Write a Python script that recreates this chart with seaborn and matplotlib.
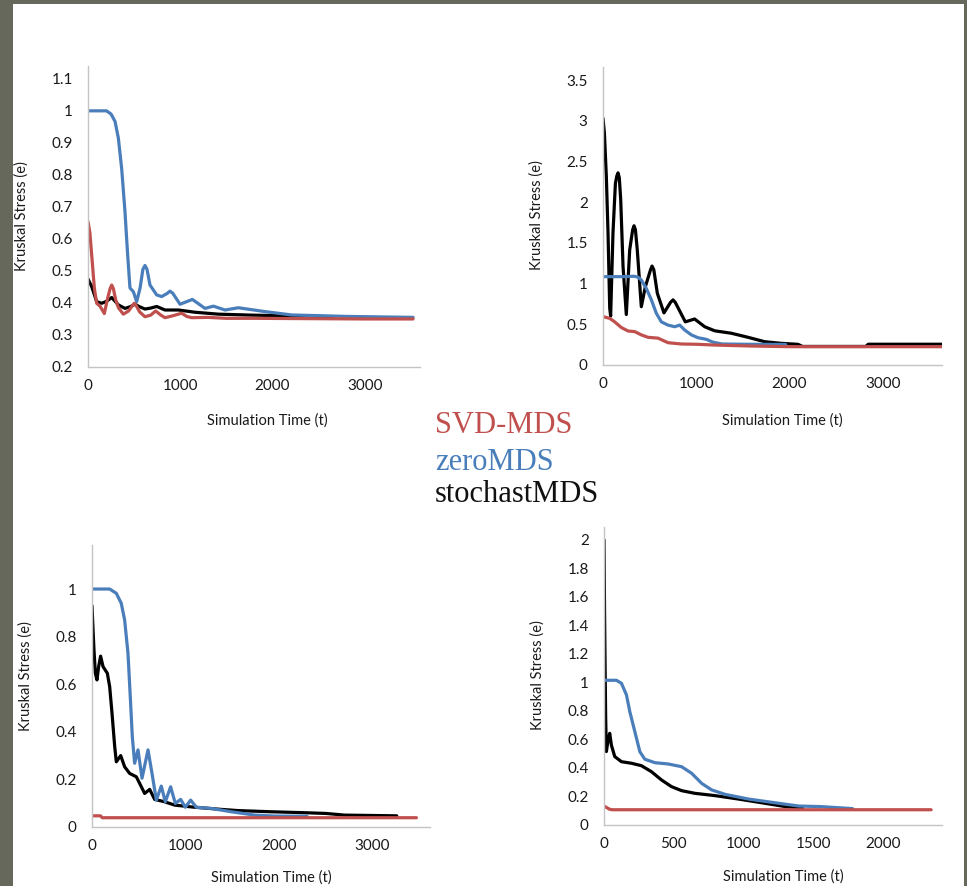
import numpy as np
import pandas as pd
import matplotlib
matplotlib.use("Agg")
import matplotlib.pyplot as plt
import seaborn as sns
from matplotlib.ticker import MultipleLocator, FuncFormatter
from matplotlib.patches import Rectangle

# ---- panel 1 (top left) ----
p1_svd_t = [0, 20, 40, 69, 94, 130, 177, 213, 240, 257, 275, 300, 330, 383, 440, 485, 502, 520, 560,
            618, 680, 734, 790, 835, 920, 1016, 1070, 1124, 1300, 1500, 1800, 2400, 3000, 3525]
p1_svd = [0.654, 0.62, 0.55, 0.446, 0.399, 0.39, 0.367, 0.415, 0.445, 0.456, 0.445, 0.41, 0.385,
          0.365, 0.375, 0.393, 0.399, 0.393, 0.372, 0.357, 0.362, 0.375, 0.362, 0.354, 0.36, 0.368,
          0.358, 0.354, 0.355, 0.352, 0.352, 0.351, 0.35, 0.35]
p1_zero_t = [0, 200, 250, 293, 329, 365, 401, 430, 455, 492, 528, 565, 595, 618, 640, 672, 745, 799,
             860, 889, 920, 998, 1132, 1269, 1360, 1486, 1630, 1920, 2209, 2800, 3525]
p1_zero = [1.0, 1.0, 0.99, 0.967, 0.915, 0.82, 0.685, 0.55, 0.447, 0.435, 0.404, 0.447, 0.505, 0.517,
           0.505, 0.456, 0.425, 0.42, 0.43, 0.437, 0.43, 0.396, 0.411, 0.383, 0.39, 0.378, 0.385,
           0.373, 0.3625, 0.358, 0.355]
p1_stoch_t = [0, 40, 94, 148, 200, 257, 329, 401, 455, 510, 560, 618, 680, 745, 835, 980, 1160, 1414,
              1775, 2137, 2660]
p1_stoch = [0.475, 0.451, 0.404, 0.399, 0.405, 0.417, 0.394, 0.383, 0.388, 0.396, 0.388, 0.381, 0.384,
            0.389, 0.378, 0.378, 0.371, 0.365, 0.362, 0.36, 0.357]

# ---- panel 2 (top right) ----
p2_svd_t = [0, 72, 125, 197, 268, 340, 411, 483, 590, 697, 840, 1019, 1198, 1592, 2000, 3634]
p2_svd = [0.594, 0.573, 0.53, 0.46, 0.418, 0.41, 0.37, 0.34, 0.33, 0.274, 0.258, 0.254, 0.245, 0.233,
          0.225, 0.225]
p2_zero_t = [0, 200, 330, 375, 411, 465, 519, 572, 626, 697, 769, 823, 876, 948, 1019, 1109, 1180,
             1277, 1500, 1960]
p2_zero = [1.085, 1.085, 1.09, 1.08, 1.044, 0.94, 0.8, 0.635, 0.53, 0.49, 0.47, 0.49, 0.43, 0.37,
           0.335, 0.315, 0.28, 0.258, 0.255, 0.252]
p2_stoch_t = [0, 15, 36, 54, 72, 82, 107, 133, 148, 161, 175, 190, 215, 250, 286, 318, 333, 348, 368,
              411, 454, 510, 526, 545, 583, 654, 725, 751, 775, 883, 983, 1091, 1198, 1377, 1556, 1735,
              1913, 2092, 2140, 2820, 2845, 3634]
p2_stoch = [3.03, 2.85, 2.31, 1.62, 0.7, 0.6, 1.62, 2.23, 2.32, 2.36, 2.3, 2.03, 1.21, 0.62, 1.41,
            1.66, 1.71, 1.66, 1.41, 0.716, 0.96, 1.17, 1.215, 1.17, 0.88, 0.64, 0.77, 0.8, 0.77, 0.53,
            0.565, 0.47, 0.42, 0.39, 0.34, 0.286, 0.266, 0.254, 0.228, 0.228, 0.255, 0.255]

# ---- panel 3 (bottom left) ----
p3_svd_t = [0, 90, 110, 3470]
p3_svd = [0.047, 0.047, 0.039, 0.039]
p3_zero_t = [0, 189, 260, 313, 349, 385, 413, 431, 456, 492, 535, 599, 642, 688, 741, 784, 841, 891,
             948, 998, 1055, 1116, 1276, 1490, 1740, 1954, 2300]
p3_zero = [1.0, 1.0, 0.982, 0.94, 0.87, 0.73, 0.52, 0.38, 0.268, 0.324, 0.205, 0.324, 0.225, 0.113,
           0.172, 0.106, 0.169, 0.099, 0.116, 0.083, 0.113, 0.083, 0.078, 0.064, 0.05, 0.046, 0.045]
p3_stoch_t = [0, 10, 21, 36, 53, 71, 92, 118, 164, 189, 214, 243, 260, 307, 349, 403, 474, 510, 563,
              617, 670, 777, 884, 1098, 1383, 1561, 1918, 2275, 2500, 2700, 3259]
p3_stoch = [0.93, 0.84, 0.745, 0.646, 0.618, 0.674, 0.718, 0.674, 0.646, 0.59, 0.478, 0.337, 0.274,
            0.30, 0.253, 0.225, 0.211, 0.183, 0.141, 0.158, 0.116, 0.106, 0.092, 0.083, 0.074, 0.069,
            0.064, 0.06, 0.057, 0.05, 0.047]

# ---- panel 4 (bottom right) ----
p4_svd_t = [0, 41, 60, 2345]
p4_svd = [0.133, 0.11, 0.107, 0.107]
p4_zero_t = [0, 89, 125, 161, 185, 221, 257, 293, 365, 460, 556, 628, 700, 772, 868, 1036, 1204,
             1396, 1554, 1782]
p4_zero = [1.015, 1.015, 0.994, 0.912, 0.795, 0.655, 0.514, 0.461, 0.437, 0.428, 0.409, 0.363, 0.292,
           0.246, 0.215, 0.182, 0.159, 0.133, 0.129, 0.115]
p4_stoch_t = [0, 4, 8, 12, 17, 30, 41, 53, 77, 125, 197, 268, 340, 412, 484, 556, 652, 796, 964,
              1156, 1300, 1422]
p4_stoch = [2.0, 1.5, 1.1, 0.75, 0.515, 0.6, 0.643, 0.56, 0.48, 0.444, 0.433, 0.416, 0.374, 0.316,
            0.269, 0.241, 0.222, 0.206, 0.182, 0.152, 0.129, 0.12]

methods = ["stochastMDS", "zeroMDS", "SVD-MDS"]   # draw order (red on top)
colors = {"SVD-MDS": "#C0504D", "zeroMDS": "#4A7EBB", "stochastMDS": "#000000"}


def long_df(svd_t, svd, zero_t, zero, st_t, st):
    parts = [pd.DataFrame({"t": st_t, "e": st, "method": "stochastMDS"}),
             pd.DataFrame({"t": zero_t, "e": zero, "method": "zeroMDS"}),
             pd.DataFrame({"t": svd_t, "e": svd, "method": "SVD-MDS"})]
    return pd.concat(parts, ignore_index=True)


sns.set_theme(style="white")
plt.rcParams["font.family"] = ["Lato", "DejaVu Sans"]

fig = plt.figure(figsize=(9.67, 8.86), dpi=100, facecolor="white")
# grey slide border (left, top, right)
border = "#66685b"
for x0, y0, w, h in [(0, 0, 13 / 967, 1), (0, 1 - 4 / 886, 1, 4 / 886), (964 / 967, 0, 3 / 967, 1)]:
    fig.patches.append(Rectangle((x0, y0), w, h, transform=fig.transFigure,
                                 facecolor=border, edgecolor="none", zorder=5))

panels = [
    ([88 / 967, 1 - 367 / 886, 332 / 967, 301 / 886],
     long_df(p1_svd_t, p1_svd, p1_zero_t, p1_zero, p1_stoch_t, p1_stoch),
     (0, 3600), (0.2, 1.14), 0.1, 1000, 500, (0.539, -0.153), (-0.178, 0.502)),
    ([603 / 967, 1 - 365 / 886, 339 / 967, 298 / 886],
     long_df(p2_svd_t, p2_svd, p2_zero_t, p2_zero, p2_stoch_t, p2_stoch),
     (0, 3637), (0, 3.66), 0.5, 1000, 500, (0.528, -0.161), (-0.174, 0.503)),
    ([92 / 967, 1 - 827 / 886, 338 / 967, 282 / 886],
     long_df(p3_svd_t, p3_svd, p3_zero_t, p3_zero, p3_stoch_t, p3_stoch),
     (0, 3615), (0, 1.185), 0.2, 1000, 500, (0.53, -0.155), (-0.175, 0.535)),
    ([604 / 967, 1 - 825 / 886, 338 / 967, 298 / 886],
     long_df(p4_svd_t, p4_svd, p4_zero_t, p4_zero, p4_stoch_t, p4_stoch),
     (0, 2423), (0, 2.09), 0.2, 500, 500, (0.53, -0.148), (-0.175, 0.503)),
]

fmt = FuncFormatter(lambda v, pos: f"{round(v, 3):g}")

for rect, df, xlim, ylim, ystep, xmaj, xmin, xl_pos, yl_pos in panels:
    ax = fig.add_axes(rect)
    ax.set_facecolor("none")
    sns.lineplot(data=df, x="t", y="e", hue="method", hue_order=methods, palette=colors,
                 estimator=None, sort=False, linewidth=2.3, legend=False, ax=ax)
    ax.set_xlim(*xlim)
    ax.set_ylim(*ylim)
    ax.xaxis.set_major_locator(MultipleLocator(xmaj))
    ax.xaxis.set_minor_locator(MultipleLocator(xmin))
    ax.yaxis.set_major_locator(MultipleLocator(ystep))
    ax.xaxis.set_major_formatter(fmt)
    ax.yaxis.set_major_formatter(fmt)
    for side in ["top", "right"]:
        ax.spines[side].set_visible(False)
    for side in ["left", "bottom"]:
        ax.spines[side].set_color("#c4c4c4")
        ax.spines[side].set_linewidth(1.0)
    ax.tick_params(axis="both", which="both", direction="out", length=3, width=0.8,
                   color="#c4c4c4", labelsize=11, labelcolor="#1a1a1a")
    ax.tick_params(axis="y", pad=8)
    ax.tick_params(axis="x", pad=6)
    ax.set_xlabel("Simulation Time (t)", fontsize=10.5, color="#1a1a1a")
    ax.set_ylabel("Kruskal Stress (e)", fontsize=10.5, color="#1a1a1a")
    ax.xaxis.set_label_coords(*xl_pos)
    ax.yaxis.set_label_coords(*yl_pos)
    ax.grid(False)

# legend text in the middle
fig.text(435 / 967, 1 - 425 / 886, "SVD-MDS", color="#C0504D", fontsize=22,
         family="Liberation Serif", va="center", ha="left")
fig.text(435 / 967, 1 - 462 / 886, "zeroMDS", color="#4A7EBB", fontsize=22,
         family="Liberation Serif", va="center", ha="left")
fig.text(435 / 967, 1 - 494 / 886, "stochastMDS", color="#111111", fontsize=22,
         family="Liberation Serif", va="center", ha="left")

fig.savefig("out.png", dpi=100, facecolor=fig.get_facecolor())
